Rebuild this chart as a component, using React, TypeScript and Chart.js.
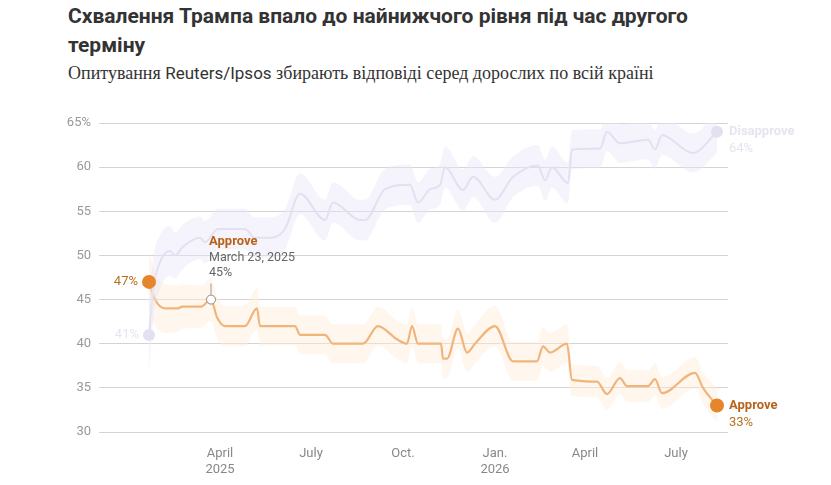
import React, { useEffect, useRef } from "react";
import Chart from "chart.js/auto";

// x = days since Jan. 20, 2025
const approveDays = [0, 6, 16, 29, 33, 52, 62, 68, 76, 96, 108, 111, 114, 146, 151, 176, 184, 214, 229, 248, 258, 263, 269, 274, 292, 294, 298, 309, 318, 326, 346, 364, 388, 394, 401, 418, 423, 448, 458, 471, 478, 499, 506, 513, 546, 554, 568];
const approveValues = [47, 45, 44, 44, 44.2, 44.2, 45, 43, 42, 42, 44, 42, 42, 42, 41, 41, 40, 40, 42, 40.5, 40, 42, 40, 40, 40, 38.3, 38.3, 41.7, 39, 40, 42, 38, 38, 39.7, 39, 40, 35.9, 35.7, 34.3, 36.1, 35.2, 35.2, 36, 34.4, 36.7, 35, 33];
const approveMargin = [3.5, 3, 2.8, 2.6, 2.5, 2.4, 2.4, 2.4, 2.3, 2.3, 2.3, 2.3, 2.2, 2.2, 2.2, 2.2, 2.2, 2.2, 2.2, 2.2, 2.2, 2.2, 2.2, 2.2, 2.2, 2.2, 2.2, 2.2, 2.2, 2.2, 2.3, 2.2, 2.2, 2.2, 2.2, 2.2, 1.8, 1.8, 1.8, 1.8, 1.8, 1.8, 1.8, 1.8, 1.8, 1.8, 1.9];

const disapproveDays = [0, 4, 12, 21, 26, 34, 51, 56, 69, 96, 106, 121, 136, 151, 176, 184, 211, 216, 236, 261, 269, 281, 291, 296, 314, 324, 346, 364, 389, 396, 403, 419, 423, 451, 458, 471, 499, 506, 513, 544, 568];
const disapproveValues = [41, 46, 49.5, 50.5, 50, 51, 52, 51.5, 53, 53, 52, 52, 53, 57, 54, 56, 54, 54, 57.5, 58, 56, 57.5, 58, 60, 57.4, 58.9, 56.3, 58.9, 60.2, 58.5, 60, 58.2, 62, 62.1, 64, 62.7, 63.1, 62, 63.6, 61.6, 64];
const disapproveMargin = [4, 3.5, 3, 2.8, 2.6, 2.5, 2.4, 2.4, 2.3, 2.3, 2.3, 2.3, 2.3, 2.3, 2.3, 2.3, 2.3, 2.3, 2.3, 2.3, 2.3, 2.3, 2.3, 2.3, 2.3, 2.3, 2.6, 2.3, 2.3, 2.3, 2.3, 2.3, 2.2, 2.2, 2.2, 2.2, 2.2, 2.2, 2.2, 2.2, 2.4];

const tickDays = [71, 162, 254, 346, 436, 527];
const tickLabels = [["April", "2025"], ["July"], ["Oct."], ["Jan.", "2026"], ["April"], ["July"]];
const yTicks = [30, 35, 40, 45, 50, 55, 60, 65];

const highlightDay = 62;
const highlightValue = 45;

const ORANGE = "#e6862c";
const LAVENDER = "#e0dcee";

const pts = (days: number[], vals: number[]) => days.map((d, i) => ({ x: d, y: vals[i] }));

const labelsPlugin = {
  id: "labels",
  afterDatasetsDraw(chart: any) {
    const { ctx, scales } = chart;
    const x = scales.x, y = scales.y;
    const last = approveDays.length - 1;
    const dLast = disapproveDays.length - 1;
    ctx.save();
    const dot = (px: number, py: number, r: number, color: string) => {
      ctx.beginPath();
      ctx.arc(px, py, r, 0, Math.PI * 2);
      ctx.fillStyle = color;
      ctx.fill();
    };
    dot(x.getPixelForValue(0), y.getPixelForValue(disapproveValues[0]), 6, "#e3e0f2");
    dot(x.getPixelForValue(disapproveDays[dLast]), y.getPixelForValue(disapproveValues[dLast]), 6, "#e3e0f2");
    dot(x.getPixelForValue(0), y.getPixelForValue(approveValues[0]), 7, ORANGE);
    dot(x.getPixelForValue(approveDays[last]), y.getPixelForValue(approveValues[last]), 7, ORANGE);

    ctx.textBaseline = "middle";
    ctx.font = "13px Roboto";
    ctx.textAlign = "right";
    ctx.fillStyle = "#b8721f";
    ctx.fillText(approveValues[0] + "%", x.getPixelForValue(0) - 11, y.getPixelForValue(approveValues[0]));
    ctx.fillStyle = "#e6e4ef";
    ctx.fillText(disapproveValues[0] + "%", x.getPixelForValue(0) - 10, y.getPixelForValue(disapproveValues[0]));

    ctx.textAlign = "left";
    const ex = x.getPixelForValue(approveDays[last]) + 12;
    const ey = y.getPixelForValue(approveValues[last]);
    ctx.font = "bold 13px Roboto";
    ctx.fillStyle = "#b8631a";
    ctx.fillText("Approve", ex, ey);
    ctx.font = "13px Roboto";
    ctx.fillStyle = "#b8721f";
    ctx.fillText(approveValues[last] + "%", ex, ey + 17);
    const dx = x.getPixelForValue(disapproveDays[dLast]) + 12;
    const dy = y.getPixelForValue(disapproveValues[dLast]);
    ctx.font = "bold 13px Roboto";
    ctx.fillStyle = "#e6e4ef";
    ctx.fillText("Disapprove", dx, dy);
    ctx.font = "13px Roboto";
    ctx.fillText(disapproveValues[dLast] + "%", dx, dy + 17);

    const hx = x.getPixelForValue(highlightDay);
    const hy = y.getPixelForValue(highlightValue);
    ctx.strokeStyle = "#999";
    ctx.lineWidth = 1;
    ctx.beginPath();
    ctx.moveTo(hx, hy - 5);
    ctx.lineTo(hx, hy - 16);
    ctx.stroke();
    ctx.beginPath();
    ctx.arc(hx, hy, 4.5, 0, Math.PI * 2);
    ctx.fillStyle = "#fff";
    ctx.fill();
    ctx.strokeStyle = "#888";
    ctx.stroke();
    ctx.font = "bold 13px Roboto";
    ctx.fillStyle = "#b8631a";
    ctx.fillText("Approve", hx - 2, hy - 58);
    ctx.font = "12.5px Roboto";
    ctx.fillStyle = "#666";
    ctx.fillText("March 23, 2025", hx - 2, hy - 42);
    ctx.fillText(highlightValue + "%", hx - 2, hy - 27);
    ctx.restore();
  },
};

export default function App() {
  const canvasRef = useRef<HTMLCanvasElement>(null);

  useEffect(() => {
    const band = (vals: number[], m: number[], sign: number) => vals.map((v, i) => v + sign * m[i]);
    const common = { pointRadius: 0, cubicInterpolationMode: "monotone", borderWidth: 0 };
    const chart = new Chart(canvasRef.current!, {
      type: "line",
      data: {
        datasets: [
          { ...common, data: pts(disapproveDays, band(disapproveValues, disapproveMargin, 1)), fill: "+1", backgroundColor: "rgba(232,229,247,0.45)" },
          { ...common, data: pts(disapproveDays, band(disapproveValues, disapproveMargin, -1)), fill: false },
          { ...common, data: pts(approveDays, band(approveValues, approveMargin, 1)), fill: "+1", backgroundColor: "rgba(254,238,218,0.45)" },
          { ...common, data: pts(approveDays, band(approveValues, approveMargin, -1)), fill: false },
          { ...common, data: pts(disapproveDays, disapproveValues), borderColor: LAVENDER, borderWidth: 2, fill: false },
          { ...common, data: pts(approveDays, approveValues), borderColor: ORANGE, borderWidth: 2.2, fill: false },
        ],
      },
      options: {
        animation: false,
        responsive: false,
        layout: { padding: { left: 39, right: 95, top: 23, bottom: 8 } },
        scales: {
          x: {
            type: "linear",
            min: -42,
            max: 579,
            grid: { display: false },
            border: { display: false },
            afterBuildTicks: (s: any) => { s.ticks = tickDays.map((v) => ({ value: v })); },
            afterFit: (s: any) => { s.height = 45; },
            ticks: {
              autoSkip: false,
              maxRotation: 0,
              padding: 6,
              color: "#888",
              font: { family: "Roboto", size: 13 },
              callback: (v: any) => tickLabels[tickDays.indexOf(Number(v))] ?? "",
            },
          },
          y: {
            min: 30,
            max: 65,
            grid: { color: "#d4d4d4", lineWidth: 1 },
            border: { display: false },
            afterBuildTicks: (s: any) => { s.ticks = yTicks.map((v) => ({ value: v })); },
            afterFit: (s: any) => { s.width = 60; },
            ticks: {
              padding: 8,
              color: "#999",
              font: { family: "Roboto", size: 13 },
              callback: (v: any) => (v === 65 ? "65%" : String(v)),
            },
          },
        },
        plugins: { legend: { display: false }, tooltip: { enabled: false } },
      },
      plugins: [labelsPlugin],
    } as any);
    return () => chart.destroy();
  }, []);

  return (
    <div style={{ position: "relative", width: 815, height: 477 }}>
      <div style={{ position: "absolute", left: 60, top: -6, width: 690, fontFamily: "Roboto", fontWeight: 700, fontSize: 21, lineHeight: "29px", color: "#333" }}>
        Схвалення Трампа впало до найнижчого рівня під час другого терміну
      </div>
      <div style={{ position: "absolute", left: 60, top: 55, fontFamily: "'Liberation Serif', serif", fontSize: 18, color: "#333", whiteSpace: "nowrap" }}>
        Опитування <span style={{ fontFamily: "Roboto", fontSize: 17 }}>Reuters/Ipsos</span> збирають відповіді серед дорослих по всій країні
      </div>
      <canvas ref={canvasRef} width={815} height={385} style={{ position: "absolute", left: 0, top: 92 }} />
    </div>
  );
}
